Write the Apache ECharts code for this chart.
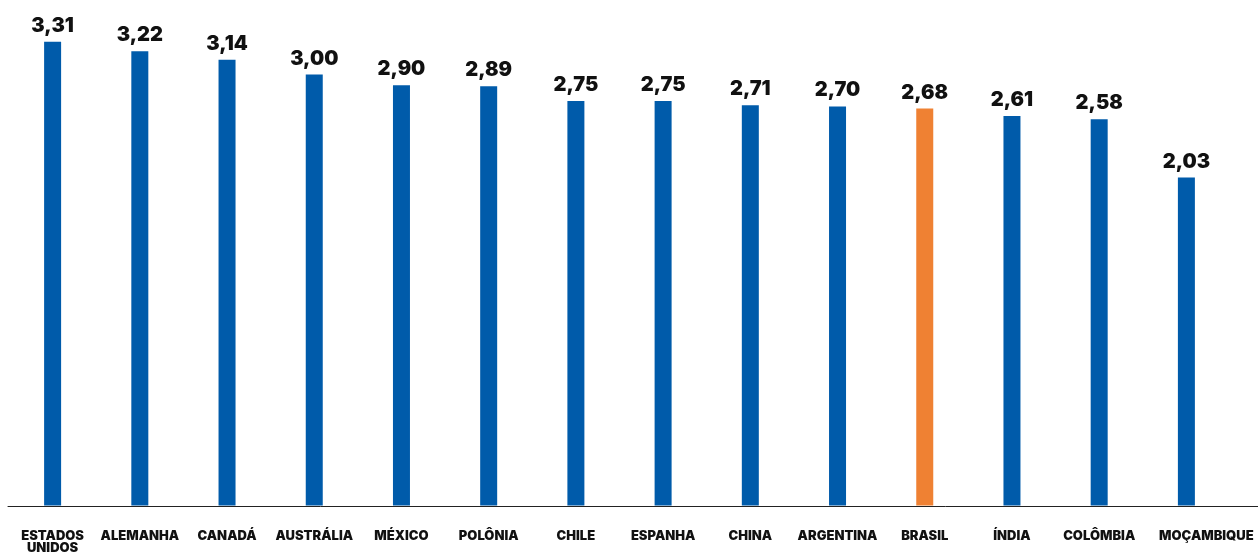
<!DOCTYPE html>
<html>
<head>
<meta charset="utf-8">
<script src="https://cdn.jsdelivr.net/npm/echarts@6/dist/echarts.min.js"></script>
<style>
  html, body { margin: 0; padding: 0; background: #ffffff; }
  #chart { width: 1258px; height: 555px; }
</style>
</head>
<body>
<div id="chart"></div>
<script>
  const categories = ['ESTADOS\nUNIDOS', 'ALEMANHA', 'CANADÁ', 'AUSTRÁLIA', 'MÉXICO', 'POLÔNIA', 'CHILE',
    'ESPANHA', 'CHINA', 'ARGENTINA', 'BRASIL', 'ÍNDIA', 'COLÔMBIA', 'MOÇAMBIQUE'];
  const values = [3.31, 3.22, 3.14, 3.00, 2.90, 2.89, 2.75, 2.75, 2.71, 2.70, 2.68, 2.61, 2.58, 2.03];
  const highlight = 'BRASIL';
  // the value axis of the original does not start at zero
  const axisFloor = -1.06;

  const blue = '#005BAA';
  const orange = '#EF8133';

  const labelFont = {
    color: '#111111',
    fontFamily: 'Inter',
    fontWeight: 900,
    fontSize: 13,
    lineHeight: 12
  };

  const chart = echarts.init(document.getElementById('chart'));

  chart.setOption({
    animation: false,
    grid: [
      { left: 9, right: 28, top: 30, bottom: 49 },
      { left: 8, right: 0, top: 30, bottom: 49 }
    ],
    xAxis: [
      {
        type: 'category',
        gridIndex: 0,
        data: categories,
        axisTick: { show: false },
        axisLine: { show: false },
        axisLabel: Object.assign({
          interval: 0,
          margin: 25,
          // last label sits flush with the right edge in the original
          formatter: (val, idx) => idx === categories.length - 1 ? '{last|' + val + '}' : val,
          rich: {
            last: Object.assign({ padding: [0, 0, 0, 40] }, labelFont)
          }
        }, labelFont)
      },
      {
        type: 'value',
        gridIndex: 1,
        min: 0,
        max: 1,
        axisLine: { show: true, lineStyle: { color: '#222222', width: 1 } },
        axisTick: { show: false },
        axisLabel: { show: false },
        splitLine: { show: false }
      }
    ],
    yAxis: [
      {
        type: 'value',
        gridIndex: 0,
        min: 0,
        max: 4.48,
        show: false,
        splitLine: { show: false }
      },
      {
        type: 'value',
        gridIndex: 1,
        show: false,
        splitLine: { show: false }
      }
    ],
    series: [
      {
        type: 'bar',
        xAxisIndex: 0,
        yAxisIndex: 0,
        barWidth: 17,
        data: values.map((v, i) => ({
          value: v - axisFloor,
          itemStyle: { color: categories[i] === highlight ? orange : blue }
        })),
        label: {
          show: true,
          position: 'top',
          distance: 6,
          color: '#111111',
          fontFamily: 'Inter',
          fontWeight: 900,
          fontSize: 20,
          formatter: p => values[p.dataIndex].toFixed(2).replace('.', ',')
        }
      }
    ]
  });
</script>
</body>
</html>
